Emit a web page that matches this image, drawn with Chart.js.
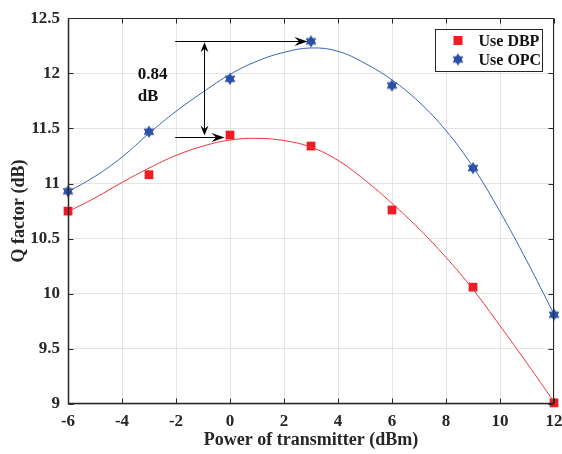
<!DOCTYPE html>
<html>
<head>
<meta charset="utf-8">
<script src="https://cdn.jsdelivr.net/npm/chart.js@4.4.1/dist/chart.umd.min.js"></script>
<style>
  html, body { margin: 0; padding: 0; background: #fff; }
  #wrap { width: 562px; height: 454px; }
</style>
</head>
<body>
<div id="wrap"><canvas id="myChart" width="562" height="454"></canvas></div>
<script>
'use strict';

// measured points
let powerLevels = [-6, -3, 0, 3, 6, 9, 12];
let qDbp = [10.75, 11.08, 11.44, 11.34, 10.76, 10.06, 9.01];
let qOpc = [10.93, 11.47, 11.95, 12.29, 11.89, 11.14, 9.81];

// fitted curves, every 1 dBm
let fitPower = [-6, -5, -4, -3, -2, -1, 0, 1, 2, 3, 4, 5, 6, 7, 8, 9, 10, 11, 12];
let fitDbp = [10.745, 10.87, 11.01, 11.14, 11.255, 11.34, 11.395, 11.41, 11.39, 11.33, 11.21, 11.03, 10.82, 10.59, 10.33, 10.04, 9.71, 9.37, 9.02];
let fitOpc = [10.925, 11.065, 11.24, 11.455, 11.655, 11.83, 11.99, 12.11, 12.19, 12.23, 12.2, 12.09, 11.94, 11.74, 11.48, 11.15, 10.745, 10.295, 9.815];

let seriesNames = ['Use DBP', 'Use OPC'];
let xTicks = [-6, -4, -2, 0, 2, 4, 6, 8, 10, 12];
let yTicks = [9, 9.5, 10, 10.5, 11, 11.5, 12, 12.5];
let gapLabel = ['0.84', 'dB'];

let redMark = '#ee1c25';
let redLine = '#f0333a';
let blueMark = '#2b4ea6';
let blueLine = '#3a62b5';
let axisColor = '#262626';
let serif = "'Liberation Serif', 'DejaVu Serif', serif";

function makeHexagram(color, r) {
  let size = Math.ceil(r * 2) + 4;
  let c = document.createElement('canvas');
  c.width = size;
  c.height = size;
  let ctx = c.getContext('2d');
  let cx = size / 2;
  let cy = size / 2;
  ctx.fillStyle = color;
  ctx.strokeStyle = color;
  ctx.lineWidth = 0.8;
  [-90, 90].forEach(function (start) {
    ctx.beginPath();
    for (let k = 0; k < 3; k++) {
      let a = (start + k * 120) * Math.PI / 180;
      ctx.lineTo(cx + r * Math.cos(a), cy + r * Math.sin(a));
    }
    ctx.closePath();
    ctx.fill();
    ctx.stroke();
  });
  return c;
}

let hexagram = makeHexagram(blueMark, 5.6);

function toPoints(xs, ys) {
  let pts = [];
  for (let i = 0; i < xs.length; i++) {
    pts.push({ x: xs[i], y: ys[i] });
  }
  return pts;
}

function drawArrowHead(ctx, x, y, angle, len, half) {
  ctx.save();
  ctx.translate(x, y);
  ctx.rotate(angle);
  ctx.beginPath();
  ctx.moveTo(0, 0);
  ctx.lineTo(-len, -half);
  ctx.lineTo(-len * 0.65, 0);
  ctx.lineTo(-len, half);
  ctx.closePath();
  ctx.fill();
  ctx.restore();
}

// arrows + text for the 0.84 dB gap
const gapPlugin = {
  id: 'gapPlugin',
  afterDatasetsDraw(chart) {
    let ctx = chart.ctx;
    let xs = chart.scales.x;
    let ys = chart.scales.y;
    let yTop = ys.getPixelForValue(12.29);
    let yBot = ys.getPixelForValue(11.426);
    let xStart = xs.getPixelForValue(-2.03);
    let xTopEnd = xs.getPixelForValue(2.87);
    let xBotEnd = xs.getPixelForValue(-0.2);
    let xMid = xs.getPixelForValue(-0.97);

    ctx.save();
    ctx.strokeStyle = '#000';
    ctx.fillStyle = '#000';
    ctx.lineWidth = 1;
    ctx.beginPath();
    ctx.moveTo(xStart, Math.round(yTop) + 0.5);
    ctx.lineTo(xTopEnd - 4, Math.round(yTop) + 0.5);
    ctx.moveTo(xStart, Math.round(yBot) + 0.5);
    ctx.lineTo(xBotEnd - 4, Math.round(yBot) + 0.5);
    ctx.moveTo(Math.round(xMid) + 0.5, yTop + 3);
    ctx.lineTo(Math.round(xMid) + 0.5, yBot - 3);
    ctx.stroke();
    drawArrowHead(ctx, xTopEnd, Math.round(yTop) + 0.5, 0, 13, 4.5);
    drawArrowHead(ctx, xBotEnd, Math.round(yBot) + 0.5, 0, 13, 4.5);
    drawArrowHead(ctx, Math.round(xMid) + 0.5, yTop + 1, -Math.PI / 2, 10, 4);
    drawArrowHead(ctx, Math.round(xMid) + 0.5, yBot - 1, Math.PI / 2, 10, 4);

    ctx.font = 'bold 17px ' + serif;
    ctx.textAlign = 'left';
    ctx.textBaseline = 'middle';
    ctx.fillStyle = '#111';
    let tx = xs.getPixelForValue(-3.42);
    ctx.fillText(gapLabel[0], tx, ys.getPixelForValue(11.99));
    ctx.fillText(gapLabel[1], tx, ys.getPixelForValue(11.79));
    ctx.restore();
  }
};

// box, inward ticks and legend like the original figure
const framePlugin = {
  id: 'framePlugin',
  afterDraw(chart) {
    let ctx = chart.ctx;
    let a = chart.chartArea;
    let xs = chart.scales.x;
    let ys = chart.scales.y;
    let L = Math.round(a.left) + 0.5;
    let R = Math.round(a.right) - 0.5;
    let T = Math.round(a.top) + 0.5;
    let B = Math.round(a.bottom) - 0.5;

    ctx.save();
    ctx.strokeStyle = axisColor;
    ctx.lineWidth = 1;
    ctx.beginPath();
    ctx.rect(L, T, R - L, B - T);
    for (let i = 0; i < xTicks.length; i++) {
      let px = Math.round(xs.getPixelForValue(xTicks[i])) + 0.5;
      ctx.moveTo(px, B);
      ctx.lineTo(px, B - 5);
      ctx.moveTo(px, T);
      ctx.lineTo(px, T + 5);
    }
    for (let i = 0; i < yTicks.length; i++) {
      let py = Math.round(ys.getPixelForValue(yTicks[i])) + 0.5;
      ctx.moveTo(L, py);
      ctx.lineTo(L + 5, py);
      ctx.moveTo(R, py);
      ctx.lineTo(R - 5, py);
    }
    ctx.stroke();
    ctx.lineWidth = 1.5;
    ctx.beginPath();
    ctx.moveTo(L, T);
    ctx.lineTo(L, B);
    ctx.lineTo(R, B);
    ctx.stroke();

    // legend
    let bw = 107;
    let bh = 42;
    let bx = Math.round(a.right) - 12 - bw + 0.5;
    let by = Math.round(a.top) + 11 + 0.5;
    ctx.fillStyle = '#fff';
    ctx.fillRect(bx, by, bw, bh);
    ctx.lineWidth = 1;
    ctx.strokeStyle = axisColor;
    ctx.strokeRect(bx, by, bw, bh);

    let row1 = by + 11;
    let row2 = by + 30;
    ctx.fillStyle = redMark;
    ctx.fillRect(bx + 18, row1 - 4.5, 9, 9);
    ctx.drawImage(hexagram, bx + 22.5 - hexagram.width / 2, row2 - hexagram.height / 2);

    ctx.fillStyle = '#111';
    ctx.font = 'bold 16px ' + serif;
    ctx.textAlign = 'left';
    ctx.textBaseline = 'middle';
    ctx.fillText(seriesNames[0], bx + 43, row1 + 1);
    ctx.fillText(seriesNames[1], bx + 43, row2 + 1);
    ctx.restore();
  }
};

const chartConfig = {
  type: 'scatter',
  data: {
    datasets: [
      {
        label: 'fit DBP',
        type: 'line',
        data: toPoints(fitPower, fitDbp),
        borderColor: redLine,
        borderWidth: 1,
        pointRadius: 0,
        tension: 0.4,
        fill: false
      },
      {
        label: 'fit OPC',
        type: 'line',
        data: toPoints(fitPower, fitOpc),
        borderColor: blueLine,
        borderWidth: 1,
        pointRadius: 0,
        tension: 0.4,
        fill: false
      },
      {
        label: seriesNames[0],
        data: toPoints(powerLevels, qDbp),
        pointStyle: 'rect',
        pointRadius: 6.2,
        backgroundColor: redMark,
        borderColor: redMark,
        borderWidth: 0
      },
      {
        label: seriesNames[1],
        data: toPoints(powerLevels, qOpc),
        pointStyle: hexagram,
        pointRadius: 6
      }
    ]
  },
  options: {
    responsive: false,
    animation: false,
    clip: false,
    layout: {
      padding: { top: 15, right: 8, left: 0, bottom: 0 }
    },
    plugins: {
      legend: { display: false },
      tooltip: { enabled: false }
    },
    scales: {
      x: {
        type: 'linear',
        min: -6,
        max: 12,
        afterFit: function (scale) {
          scale.height = 50;
          scale.paddingLeft = 0;
          scale.paddingRight = 0;
        },
        afterBuildTicks: function (scale) {
          scale.ticks = xTicks.map(function (v) { return { value: v }; });
        },
        grid: { color: '#e4e4e4', drawTicks: false },
        border: { display: false },
        ticks: {
          padding: 7,
          color: axisColor,
          font: { family: serif, size: 17, weight: 'bold' },
          maxRotation: 0,
          callback: function (value) { return String(value); }
        },
        title: {
          display: true,
          text: 'Power of transmitter (dBm)',
          color: axisColor,
          font: { family: serif, size: 18, weight: 'bold' },
          padding: { top: 0, bottom: 3 }
        }
      },
      y: {
        type: 'linear',
        min: 9,
        max: 12.5,
        afterFit: function (scale) {
          scale.width = 68;
        },
        afterBuildTicks: function (scale) {
          scale.ticks = yTicks.map(function (v) { return { value: v }; });
        },
        grid: { color: '#e4e4e4', drawTicks: false },
        border: { display: false },
        ticks: {
          padding: 8,
          color: axisColor,
          font: { family: serif, size: 17, weight: 'bold' },
          callback: function (value) { return String(value); }
        },
        title: {
          display: true,
          text: 'Q factor (dB)',
          color: axisColor,
          font: { family: serif, size: 18, weight: 'bold' },
          padding: { top: 9, bottom: 0 }
        }
      }
    }
  },
  plugins: [gapPlugin, framePlugin]
};

let canvasChart = document.getElementById('myChart').getContext('2d');
const myChart = new Chart(canvasChart, chartConfig);
</script>
</body>
</html>
